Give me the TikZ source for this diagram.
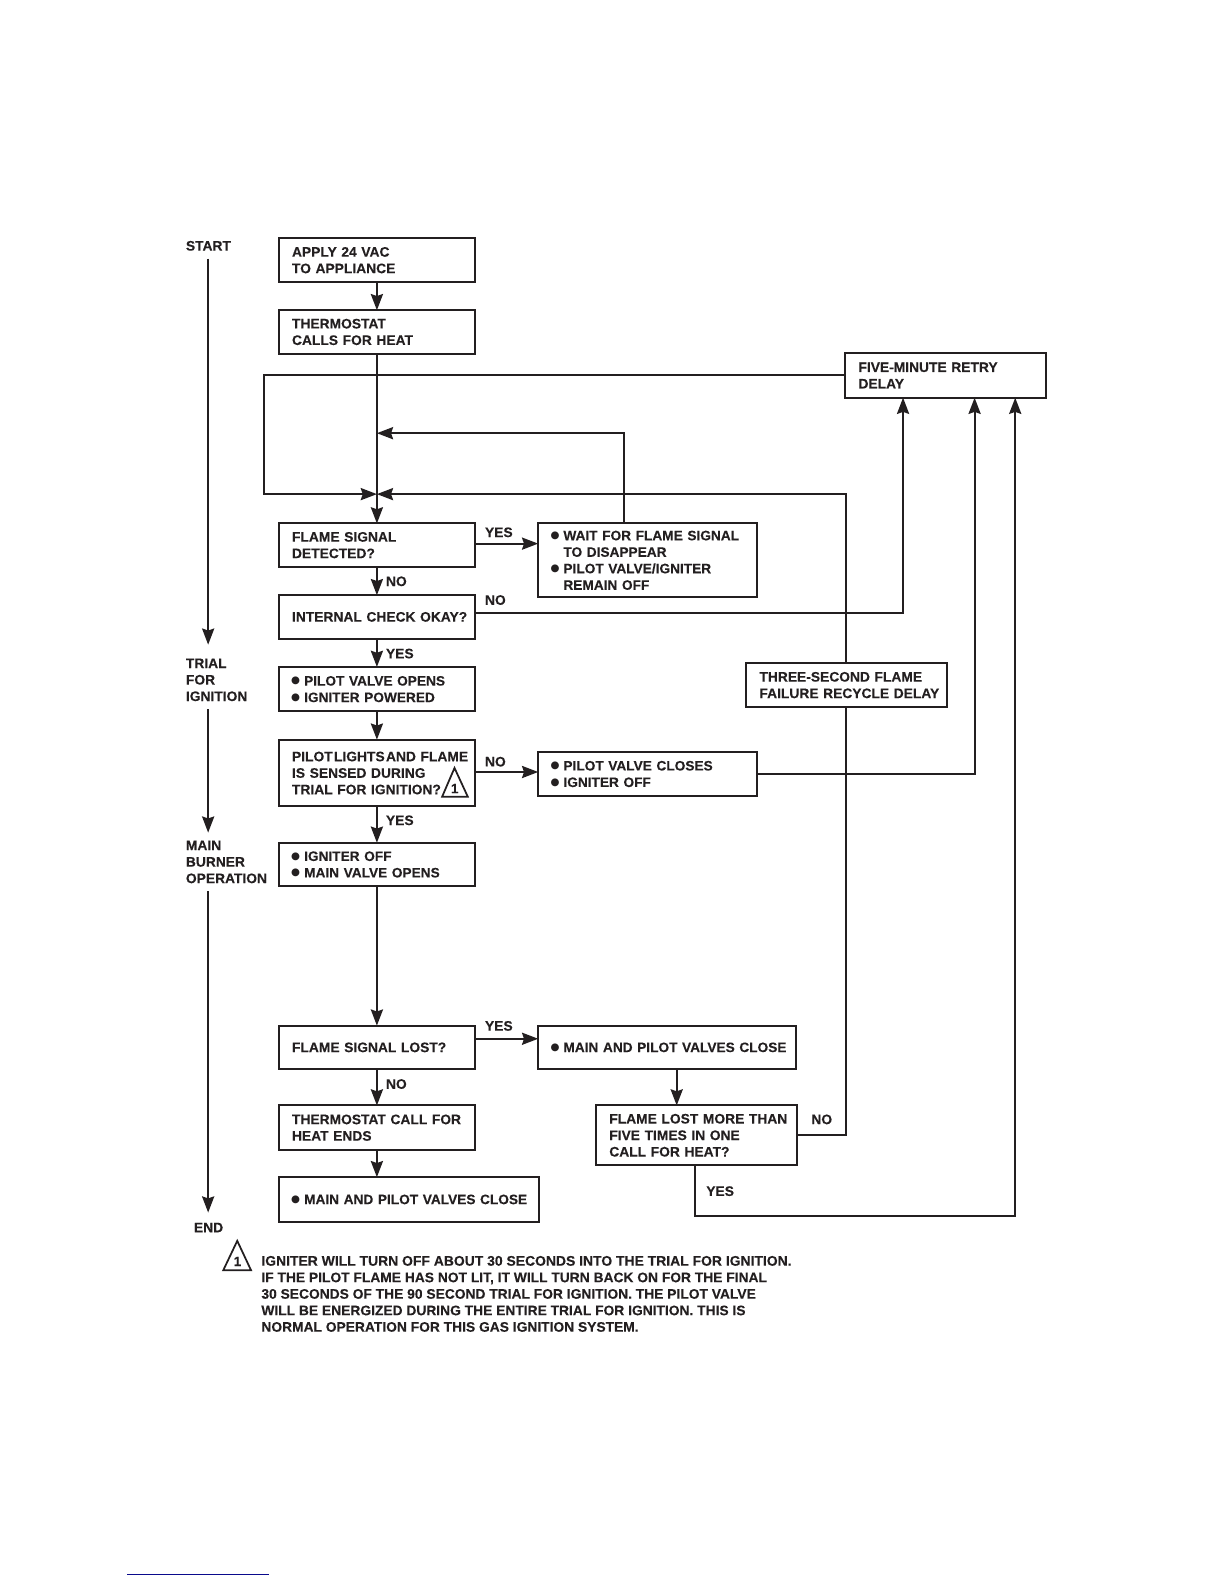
\documentclass[tikz,border=0pt]{standalone}
\usepackage{fontspec}
\setmainfont{Liberation Sans}[BoldFeatures={FakeBold=0.12}]
\newfontfamily\symfont{DejaVu Sans}
\usetikzlibrary{arrows.meta}
\definecolor{ink}{HTML}{231F20}
\definecolor{rulecol}{RGB}{10,10,140}
\newcommand{\bl}{\fontsize{10.15}{12.25}\selectfont\makebox[9pt][l]{\hspace*{-0.6pt}\smash{\raisebox{1.3pt}{\fontsize{7.6}{9.5}\symfont ●}}}}
\newcommand{\ind}{\hspace*{9pt}}
\tikzset{
  base font/.style={font=\fontsize{10.25}{12.25}\selectfont\bfseries, text=ink},
  box/.style 2 args={draw=ink, line width=1.5pt, rectangle, anchor=north west, inner sep=0pt, outer sep=0pt,
    base font, minimum width=#1*0.75pt, text width=#1*0.75pt, minimum height=#2*0.75pt,
    execute at begin node={\leftskip=9.75pt\rightskip=0pt plus 1fil\parindent=0pt}},
  lab/.style={base font, anchor=base west, inner sep=0pt, outer sep=0pt},
  multi/.style={base font, anchor=west, inner sep=0pt, outer sep=0pt, align=left},
  conn/.style={draw=ink, line width=1.5pt},
  arr/.style={conn, -{Stealth[length=12pt,width=9pt,inset=1.5pt]}},
  warn/.style={draw=ink, line width=1.3pt, line join=miter},
}
\begin{document}
\begin{tikzpicture}[x=0.75pt,y=-0.75pt]
\useasboundingbox (0,0) rectangle (1211.3,1567.6);
% boxes
\node[box={194}{43}] (apply) at (276,236) {APPLY 24 VAC\\TO APPLIANCE};
\node[box={194}{43}] (stat) at (276,307) {THERMOSTAT\\CALLS FOR HEAT};
\node[box={199}{44}] (retry) at (836.6,349.6) {FIVE-MINUTE RETRY\\DELAY};
\node[box={194}{43}] (detect) at (276,518) {FLAME SIGNAL\\DETECTED?};
\node[box={217}{73}] (wait) at (532.6,518) {\bl WAIT FOR FLAME SIGNAL\\\ind TO DISAPPEAR\\\bl PILOT VALVE/IGNITER\\\ind REMAIN OFF};
\node[box={194}{43}] (check) at (276,589) {INTERNAL CHECK OKAY?};
\node[box={194}{44}] (opens) at (276,660) {\bl PILOT VALVE OPENS\\\bl IGNITER POWERED};
\node[box={199}{44}] (recycle) at (738.6,656) {THREE-SECOND FLAME\\FAILURE RECYCLE DELAY};
\node[box={194}{66}] (lights) at (276,732) {PILOT\hspace{1pt}LIGHTS\hspace{1pt}AND FLAME\\IS SENSED DURING\\TRIAL FOR IGNITION?};
\node[box={217}{44}] (closes) at (532.6,744) {\bl PILOT VALVE CLOSES\\\bl IGNITER OFF};
\node[box={194}{43}] (main) at (276,834) {\bl IGNITER OFF\\\bl MAIN VALVE OPENS};
\node[box={194}{43}] (lost) at (276,1015) {FLAME SIGNAL LOST?};
\node[box={255.4}{43}] (bothclose) at (532.6,1015) {\bl MAIN AND PILOT VALVES CLOSE};
\node[box={199}{59}] (five) at (590,1094) {FLAME LOST MORE THAN\\FIVE TIMES IN ONE\\CALL FOR HEAT?};
\node[box={194}{44}] (ends) at (276,1094) {THERMOSTAT CALL FOR\\HEAT ENDS};
\node[box={257}{44}] (final) at (276,1165) {\bl MAIN AND PILOT VALVES CLOSE};
% warning triangles
\draw[warn] (449.8,760) -- (437.5,788.6) -- (463,788.6) -- cycle;
\node[base font, inner sep=0pt, anchor=base] (tri1) at (450,785) {\fontsize{10}{10}\selectfont 1};
\draw[warn] (234.8,1228) -- (221,1257) -- (248.4,1257) -- cycle;
\node[base font, inner sep=0pt, anchor=base] (tri2) at (235,1253) {\fontsize{10}{10}\selectfont 1};
% junctions
\coordinate (jm) at (373,489);
\coordinate (jw) at (617.7,428.7);
\coordinate (jl) at (261,371);
\coordinate (jr) at (837.3,489);
\coordinate (ck) at (893.7,607);
\coordinate (cl) at (964.5,766);
\coordinate (fy) at (687.7,1203);
\coordinate (fr) at (1004.7,1203);
\coordinate (fn) at (837.3,1123);
\coordinate (bc) at (669.7,1015);
\coordinate (yd) at (470,538);
\coordinate (yl) at (470,764);
\coordinate (yf) at (470,1028);
% main spine
\draw[arr] (apply.south) -- (stat.north);
\draw[arr] (stat.south) -- (detect.north);
\draw[arr] (detect.south) -- (check.north);
\draw[arr] (check.south) -- (opens.north);
\draw[arr] (opens.south) -- (lights.north);
\draw[arr] (lights.south) -- (main.north);
\draw[arr] (main.south) -- (lost.north);
\draw[arr] (lost.south) -- (ends.north);
\draw[arr] (ends.south) -- (ends.south |- final.north);
% side branches
\draw[arr] (detect.east |- yd) -- (wait.west |- yd);
\draw[arr] (lights.east |- yl) -- (closes.west |- yl);
\draw[arr] (lost.east |- yf) -- (bothclose.west |- yf);
\draw[arr] (bc |- bothclose.south) -- (bc |- five.north);
% returns
\draw[arr] (retry.west |- jl) -- (jl) -- (jl |- jm) -- (jm);
\draw[arr] (wait.north -| jw) -- (jw) -- (apply.south |- jw);
\draw[arr] (recycle.north -| jr) -- (jr) -- (jm);
\draw[conn] (five.east |- fn) -- (fn) -- (fn |- recycle.south);
\draw[arr] (check.east |- ck) -- (ck) -- (ck |- retry.south);
\draw[arr] (closes.east |- cl) -- (cl) -- (cl |- retry.south);
\draw[arr] (fy |- five.south) -- (fy) -- (fr) -- (fr |- retry.south);
% timeline
\coordinate (t1a) at (206,256); \coordinate (t1b) at (206,638);
\coordinate (t2a) at (206,702); \coordinate (t2b) at (206,824);
\coordinate (t3a) at (206,882); \coordinate (t3b) at (206,1200);
\draw[arr] (t1a) -- (t1b);
\draw[arr] (t2a) -- (t2b);
\draw[arr] (t3a) -- (t3b);
% labels
\node[lab] (l1) at (480,531.5) {YES};
\node[lab] (l2) at (382,580) {NO};
\node[lab] (l3) at (480,598.5) {NO};
\node[lab] (l4) at (382,651.5) {YES};
\node[lab] (l5) at (480,758.5) {NO};
\node[lab] (l6) at (382,816.5) {YES};
\node[lab] (l7) at (480,1020) {YES};
\node[lab] (l8) at (382,1077.5) {NO};
\node[lab] (l9) at (803,1112.5) {NO};
\node[lab] (l10) at (699,1183.5) {YES};
\node[lab] (s1) at (184,248) {START};
\node[lab] (s4) at (192,1219.5) {END};
\node[multi] (s2) at (184,672.8) {TRIAL\\FOR\\IGNITION};
\node[multi] (s3) at (184,853) {MAIN\\BURNER\\OPERATION};
\node[multi] (note) at (258.7,1280.5) {\fontsize{10.33}{12.25}\selectfont IGNITER WILL TURN OFF ABOUT 30 SECONDS INTO THE TRIAL FOR IGNITION.\\IF THE PILOT FLAME HAS NOT LIT, IT WILL TURN BACK ON FOR THE FINAL\\30 SECONDS OF THE 90 SECOND TRIAL FOR IGNITION. THE PILOT VALVE\\WILL BE ENERGIZED DURING THE ENTIRE TRIAL FOR IGNITION. THIS IS\\NORMAL OPERATION FOR THIS GAS IGNITION SYSTEM.};
% rule at foot of page
\draw[draw=rulecol, line width=0.75pt] (125.7,1558.6) -- (266.2,1558.6);
\end{tikzpicture}
\end{document}
